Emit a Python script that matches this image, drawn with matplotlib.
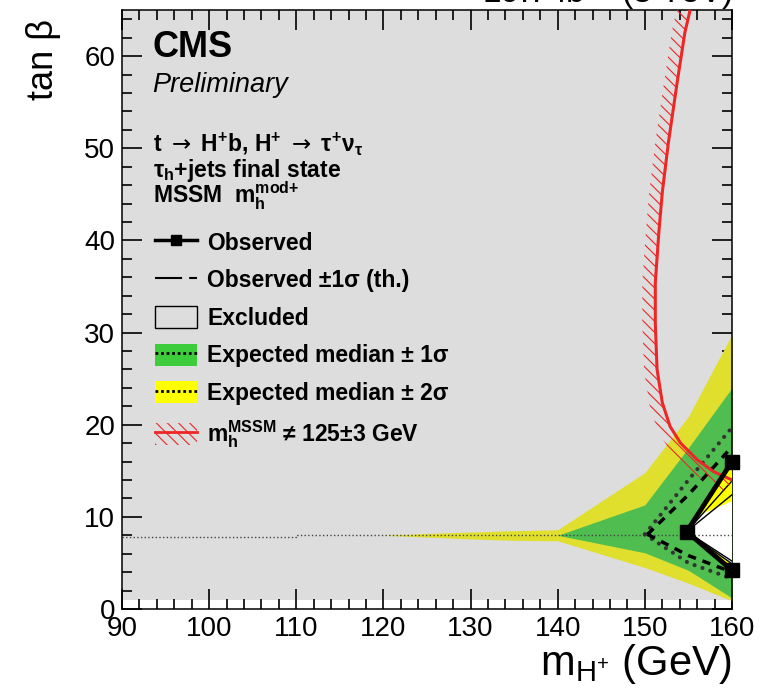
import numpy as np
import matplotlib
matplotlib.use('Agg')
import matplotlib.pyplot as plt
from matplotlib.lines import Line2D
from matplotlib.patches import Patch

plt.rcParams['font.family'] = ['Liberation Sans', 'DejaVu Sans']
plt.rcParams['mathtext.fontset'] = 'custom'
plt.rcParams['mathtext.rm'] = 'Liberation Sans:bold'
plt.rcParams['mathtext.it'] = 'Liberation Sans:italic:bold'
plt.rcParams['mathtext.bf'] = 'Liberation Sans:bold'
plt.rcParams['mathtext.sf'] = 'Liberation Sans'
plt.rcParams['mathtext.tt'] = 'DejaVu Sans'
plt.rcParams['hatch.linewidth'] = 0.8

# Expected limit bands (tan beta vs charged Higgs mass)
band_mass = [120, 125, 130, 135, 140, 150, 155, 160]
yellow_hi = [8.0, 8.2, 8.35, 8.5, 8.6, 14.8, 20.9, 29.8]
yellow_lo = [8.0, 7.8, 7.6, 7.45, 7.4, 4.5, 2.8, 0.9]
green_hi = [8.0, 8.0, 8.0, 8.0, 8.0, 11.3, 17.5, 24.0]
green_lo = [8.0, 8.0, 8.0, 8.0, 8.0, 6.1, 4.2, 1.2]

# Expected median
exp_mass = [90, 110, 110, 160]
exp_tanb = [7.8, 7.8, 8.0, 8.0]
exp_branch_mass = [150, 155, 160]
exp_up = [8.1, 14.0, 19.7]
exp_lo = [8.1, 5.0, 3.3]

# Observed +-1 sigma (theory)
th_mass = [150.3, 155, 160]
th_up = [8.1, 12.4, 17.6]
th_lo = [8.1, 5.8, 4.0]
th_in_mass = [160, 154.8, 160]
th_in_1 = [13.9, 8.4, 4.9]
th_in_2 = [12.4, 8.4, 5.2]

# Observed limit
obs_mass = [160, 154.8, 160]
obs_tanb = [16.0, 8.4, 4.2]

# Small slivers of the 2 sigma band inside the allowed region
sliver_up_mass = [156.0, 160, 160]
sliver_up_tanb = [10.1, 15.6, 11.7]
sliver_lo_mass = [156.8, 160, 160]
sliver_lo_tanb = [7.0, 4.4, 5.0]

# m_h^MSSM = 125 +- 3 GeV contour
mh_mass = [155.2, 154.6, 153.7, 152.7, 152.0, 151.6, 151.2, 151.2, 151.4,
           152.0, 152.9, 154.1, 156.0, 157.9, 160.0]
mh_tanb = [65, 62.6, 57.1, 50.6, 45.2, 40.8, 35.4, 31.0, 26.0,
           22.4, 19.8, 18.0, 16.2, 14.9, 14.0]

excl_mass = [90, 160]
excl_lo, excl_hi = 1.0, 65.0

gray = '#dddddd'
green = '#4fbd50'
yellow = '#e0df2e'
red = '#ee2626'

W, H = 760, 691
fig = plt.figure(figsize=(W / 100, H / 100), dpi=100)
ax = fig.add_axes([122 / W, 1 - 609 / H, 610 / W, 599 / H])
ax.set_xlim(90, 160)
ax.set_ylim(0, 65)

ax.fill_between(excl_mass, excl_lo, excl_hi, color=gray, lw=0, zorder=1)
ax.fill_between(band_mass, yellow_lo, yellow_hi, color=yellow, lw=0, zorder=2)
ax.fill_between(band_mass, green_lo, green_hi, color=green, lw=0, zorder=2.1)
ax.fill(obs_mass, obs_tanb, color='white', lw=0, zorder=3)
ax.fill(sliver_up_mass, sliver_up_tanb, color='#ffff00', lw=0, zorder=3.2)
ax.fill(sliver_lo_mass, sliver_lo_tanb, color='#ffff00', lw=0, zorder=3.2)

ax.plot(exp_mass, exp_tanb, color='#444444', lw=1.0, ls=':', zorder=4)
dot = (0, (0.01, 2.0))
ax.plot(exp_branch_mass, exp_up, color='#333333', lw=3.0, ls=dot,
        dash_capstyle='round', zorder=4)
ax.plot(exp_branch_mass, exp_lo, color='#333333', lw=3.0, ls=dot,
        dash_capstyle='round', zorder=4)
ax.plot(th_mass, th_up, color='black', lw=2.5, dashes=(2.4, 2.0), zorder=4.1)
ax.plot(th_mass, th_lo, color='black', lw=2.5, dashes=(2.4, 2.0), zorder=4.1)
ax.plot(th_in_mass, th_in_1, color='black', lw=1.0, zorder=4.1)
ax.plot(th_in_mass, th_in_2, color='black', lw=1.0, zorder=4.1)

# hatched strip along the m_h contour
pts = ax.transData.transform(np.column_stack([mh_mass, mh_tanb]))
d = np.gradient(pts, axis=0)
d /= np.linalg.norm(d, axis=1)[:, None]
normal = np.column_stack([d[:, 1], -d[:, 0]])
shifted = ax.transData.inverted().transform(pts + normal * 13)
strip = np.vstack([np.column_stack([mh_mass, mh_tanb]), shifted[::-1]])
ax.fill(strip[:, 0], strip[:, 1], facecolor='none', edgecolor=red,
        hatch='\\\\\\', lw=0, zorder=5)
ax.plot(mh_mass, mh_tanb, color=red, lw=2.2, zorder=5.1)

ax.plot(obs_mass, obs_tanb, color='black', lw=3.5, marker='s', ms=10,
        clip_on=False, zorder=6)

# axes styling
ax.set_xticks(np.arange(90, 161, 10))
ax.set_yticks(np.arange(0, 61, 10))
ax.set_xticks(np.arange(90, 161, 2), minor=True)
ax.set_yticks(np.arange(0, 65, 2), minor=True)
ax.tick_params(which='both', direction='in', top=True, right=True,
               width=1.2, labelsize=20, pad=5)
ax.tick_params(which='major', length=14.5)
ax.tick_params(which='minor', length=7.2)
for s in ax.spines.values():
    s.set_linewidth(1.1)

ax.set_xlabel(r'$\mathsf{m_{H^{+}}}$ (GeV)', fontsize=30, loc='right')
ax.xaxis.set_label_coords(1.0, -0.055)
ax.set_ylabel('tan β', fontsize=26, loc='top')
ax.yaxis.set_label_coords(-0.10, 0.985)

fig.text(732 / W, 1 - 3 / H, r'19.7 fb$\mathsf{^{-1}}$ (8 TeV)', ha='right',
         va='baseline', fontsize=24)

fig.text(152 / W, 1 - 57 / H, 'CMS', fontsize=26, fontweight='bold')
fig.text(152 / W, 1 - 92 / H, 'Preliminary', fontsize=19.5, style='italic')
fig.text(153 / W, 1 - 152 / H,
         r't $\mathtt{\rightarrow}$ H$^{+}$b, H$^{+}$ $\mathtt{\rightarrow}$ '
         r'$\mathrm{\tau^{+}\nu_{\tau}}$',
         fontsize=16.5, fontweight='bold')
fig.text(153 / W, 1 - 177 / H, r'$\mathrm{\tau_{h}}$+jets final state',
         fontsize=16.5, fontweight='bold')
fig.text(153 / W, 1 - 203 / H, r'MSSM  $\mathrm{m_{h}^{mod{+}}}$',
         fontsize=16.5, fontweight='bold')

handles = [
    Line2D([], [], color='black', lw=2.5, marker='s', ms=7),
    Line2D([], [], color='black', lw=1.5, dashes=(13, 3.4)),
    Patch(facecolor=gray, edgecolor='black', lw=1.0),
    (Patch(facecolor='#3ccc3c', lw=0),
     Line2D([], [], color='black', lw=2.0, ls=(0, (1, 1)))),
    (Patch(facecolor='#ffff00', lw=0),
     Line2D([], [], color='black', lw=2.0, ls=(0, (1, 1)))),
    (Patch(facecolor='none', edgecolor=red, hatch='\\\\\\', lw=0),
     Line2D([], [], color=red, lw=2.0)),
]
labels = ['Observed', 'Observed ±1σ (th.)', 'Excluded',
          'Expected median ± 1σ', 'Expected median ± 2σ',
          r'$\mathrm{m_{h}^{MSSM}}$ ≠ 125±3 GeV']
leg = fig.legend(handles, labels, loc='upper left',
                 bbox_to_anchor=(155 / W, 1 - 231 / H),
                 frameon=False, borderpad=0, borderaxespad=0,
                 handlelength=1.83, handleheight=1.1, handletextpad=0.44,
                 labelspacing=0.6,
                 prop={'family': ['Liberation Sans', 'DejaVu Sans'],
                       'weight': 'bold', 'size': 16.5})

fig.savefig('out.png', dpi=100)
